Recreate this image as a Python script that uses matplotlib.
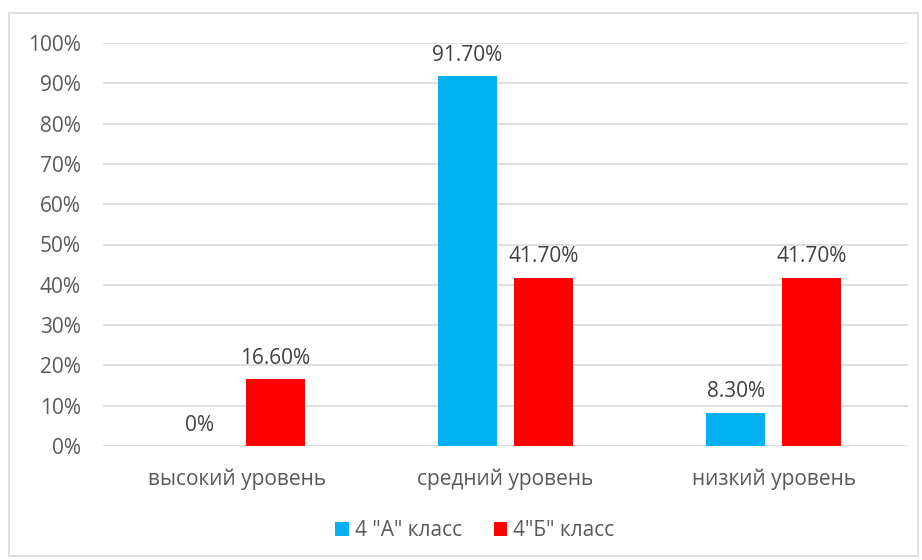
import matplotlib
matplotlib.use("Agg")
import matplotlib.pyplot as plt
from matplotlib.patches import Rectangle
import numpy as np

categories = ["высокий уровень", "средний уровень", "низкий уровень"]
series_names = ['4 "А" класс', '4"Б" класс']
class_a = [0.0, 91.7, 8.3]
class_b = [16.6, 41.7, 41.7]
labels_a = ["0%", "91.70%", "8.30%"]
labels_b = ["16.60%", "41.70%", "41.70%"]
colors = ["#00B0F0", "#FF0000"]
yticks = list(range(0, 101, 10))

plt.rcParams['font.family'] = ['Open Sans', 'DejaVu Sans']
txt = "#595959"
fs = 15

fig = plt.figure(figsize=(9.22, 5.6), dpi=100)
ax = fig.add_axes([103/922, 1-446/560, (908-103)/922, (446-43)/560])

x = np.arange(len(categories))
w = 0.22
off = 0.142
ba = ax.bar(x - off, class_a, w, color=colors[0], label=series_names[0], zorder=3)
bb = ax.bar(x + off, class_b, w, color=colors[1], label=series_names[1], zorder=3)
for rect, lab in zip(ba, labels_a):
    ax.text(rect.get_x() + rect.get_width()/2, rect.get_height() + 2.6, lab,
            ha="center", va="bottom", fontsize=fs, color="#404040")
for rect, lab in zip(bb, labels_b):
    ax.text(rect.get_x() + rect.get_width()/2, rect.get_height() + 2.6, lab,
            ha="center", va="bottom", fontsize=fs, color="#404040")

ax.set_xlim(-0.5, 2.5)
ax.set_ylim(0, 100)
ax.set_yticks(yticks)
ax.set_yticklabels([f"{t}%" for t in yticks], fontsize=fs, color=txt)
ax.set_xticks(x)
ax.set_xticklabels(categories, fontsize=fs, color=txt)
ax.tick_params(axis="both", length=0)
ax.tick_params(axis="y", pad=16)
ax.tick_params(axis="x", pad=16)
ax.grid(axis="y", color="#D9D9D9", linewidth=1.2, zorder=0)
for s in ax.spines.values():
    s.set_visible(False)

fig.legend(loc="center", bbox_to_anchor=(475/922, 1-531/560), ncol=2, frameon=False,
           fontsize=fs, labelcolor=txt, handlelength=0.65, handleheight=0.65,
           handletextpad=0.3, columnspacing=1.5)

fig.patches.append(Rectangle((9/922, 1-556/560), (918-9)/922, (556-13)/560,
                             transform=fig.transFigure, fill=False,
                             edgecolor="#D9D9D9", linewidth=1.2))
fig.savefig("out.png", dpi=100)
